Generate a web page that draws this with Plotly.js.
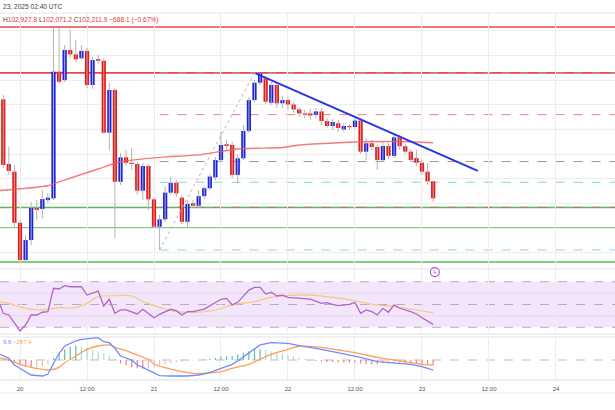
<!DOCTYPE html>
<html>
<head>
<meta charset="utf-8">
<script src="https://cdn.plot.ly/plotly-3.0.1.min.js"></script>
<style>
  html, body { margin: 0; padding: 0; background: #fff; }
  #chart { width: 615px; height: 410px; }
</style>
</head>
<body>
<div id="chart"></div>
<script>
// hours are counted from 2025-01-20 00:00 UTC, one candle per hour
const firstCandleHour = -3;

const opens = [
  106220, 103600, 103290, 101220, 99710, 100520, 101820, 101780, 102140, 102210,
  107340, 107000, 108220, 108040, 107880, 108180, 106800, 107850, 107780, 104870,
  106600, 102880, 103870, 103650, 103600, 102520, 103520, 102170, 101060, 101360,
  102440, 102840, 102240, 101260, 102010, 101910, 102300, 102620, 103060, 103760,
  104400, 104370, 103160, 103830, 104940, 106190, 106890, 107070, 106080, 106800,
  106060, 106190, 106010, 105810, 105650, 105650, 105590, 105730, 105340, 105140,
  105250, 105000, 105140, 105100, 105360, 104100, 104440, 104290, 103760, 104330,
  103930, 104680, 104320, 104100, 103840, 103650, 103290, 102900,
];
const highs = [
  106400, 104300, 103560, 101330, 100730, 102060, 102140, 102550, 102430, 109110,
  109110, 108420, 109030, 108620, 108420, 108300, 107930, 108020, 107890, 106880,
  106680, 104050, 104170, 104250, 103680, 103640, 103600, 102260, 101540, 102680,
  103090, 102950, 102350, 102140, 102140, 102550, 102710, 103200, 103880, 104900,
  104570, 104490, 103970, 105180, 106310, 107000, 107290, 107170, 106920, 106880,
  106360, 106310, 106110, 105910, 105790, 105830, 105870, 105870, 105460, 105420,
  105380, 105260, 105220, 105460, 105460, 104650, 104570, 104370, 104490, 104450,
  104820, 104780, 104410, 104210, 104170, 103760, 103640, 102928,
];
const lows = [
  103440, 103160, 101010, 99590, 99630, 100320, 101330, 101370, 102020, 102140,
  106840, 106920, 107890, 107730, 107810, 106680, 106640, 107650, 104820, 104170,
  100600, 102750, 103520, 103360, 102350, 102140, 101740, 101010, 100120, 101250,
  102350, 102260, 101170, 101060, 101820, 101820, 102180, 102550, 102950, 103680,
  104170, 103030, 102820, 103760, 104860, 106110, 106800, 106030, 105990, 105870,
  105870, 105790, 105670, 105500, 105460, 105380, 105460, 105180, 105060, 104980,
  104900, 104900, 104980, 105020, 104010, 103760, 104170, 103360, 103680, 103800,
  103840, 104170, 104010, 103680, 103520, 103160, 102750, 102071,
];
const closes = [
  103560, 103320, 101220, 99710, 100520, 101820, 101740, 102180, 102240, 107340,
  106930, 108220, 108040, 107840, 108180, 106800, 107810, 107780, 104870, 106600,
  102880, 103870, 103650, 103600, 102520, 103520, 102170, 101060, 101360, 102440,
  102840, 102410, 101260, 101980, 101910, 102300, 102620, 103090, 103760, 104370,
  104330, 103160, 103830, 104940, 106190, 106890, 107270, 106120, 106800, 106060,
  106190, 106010, 105810, 105650, 105610, 105570, 105730, 105340, 105140, 105300,
  105060, 105140, 105090, 105360, 104100, 104440, 104290, 103760, 104330, 103930,
  104680, 104320, 104100, 103760, 103650, 103290, 102900, 102212,
];

// moving average on price
const maHours = [-4, 5, 7, 14, 18, 25, 32, 39, 47, 50, 61, 68, 74];
const maValues = [102520, 102720, 102880, 103400, 103690, 103870, 103970, 104210, 104270, 104370, 104500, 104510, 104460];

// drawn levels
const resistanceLevels = [109150, 107290];
const supportLevels = [101840, 101010, 99630];
const fibStartHour = 25;
const fibEndHour = 42;
const fibLevels = [107290, 105600, 103700, 102860, 101850, 100120];
const fibLevelColors = ["#a0a0a0", "#ef8080", "#ad9090", "#86d8c8", "#bb7a6c", "#95cdf2"];
const trendHours = [42.2, 82];
const trendPrices = [107270, 103320];

// RSI pane
const rsiHours = [-4, -3, -2, -1, 0, 1, 2, 3, 4, 5, 6, 7, 8, 9, 11, 12, 13, 14, 15, 16,
  17, 18, 19, 21, 22, 23, 24, 25, 27, 28, 29, 30, 31, 33, 34, 36, 37, 38, 39, 41,
  42, 43, 44, 45, 46, 47, 48, 50, 52, 54, 55, 56, 57, 59, 60, 61, 62, 63, 64, 65,
  66, 67, 68, 70, 71, 72, 73, 74];
const rsiValues = [55.4, 42.3, 40.8, 33.5, 26.8, 32, 40.8, 40.8, 43.2, 43.7, 64.2, 63.6, 66.5, 65.6, 65.6, 58.3, 60.4, 61.8, 48.7, 54.6,
  42.3, 45.2, 45.2, 41.7, 45.8, 42.3, 38.4, 41.4, 45.8, 44.6, 40.8, 43.7, 43.7, 46, 48.7, 54.6, 55.4, 49.6, 51.9, 62.7,
  65, 65, 59.2, 60.7, 57.5, 58.3, 56.3, 55.4, 54.8, 51, 51.6, 50.2, 49, 50.2, 51.9, 42.3, 45.2, 43.7, 40.8, 46.7,
  43.2, 49.6, 46.7, 43.7, 41.7, 38.4, 35.8, 32.6];
const rsiMaHours = [-4, -2, 0, 2, 4, 7, 10, 12, 14, 17, 20, 22, 25, 28, 32, 35, 38, 42, 45, 49, 52, 56, 60, 63, 67, 71, 74];
const rsiMaValues = [52.5, 51, 48, 45.8, 45.2, 47.2, 47.2, 51, 56.8, 57.7, 57.5, 52.5, 47.5, 43.7, 43.2, 45.2, 49.6, 52.5, 56.3, 58.3, 58.3, 56.3, 53.3, 50.2, 48.1, 45.2, 42.8];
const eventHours = [74.3];
const eventLevels = [78.5];

// MACD pane
const macdHours = [-4, -2, -1, 1, 2, 4, 5, 6, 7, 8, 10, 11, 13, 14, 15, 16, 17, 18, 20, 21,
  22, 24, 25, 27, 30, 32, 34, 36, 38, 39, 41, 43, 45, 47, 48, 50, 52, 53, 56, 59,
  61, 64, 67, 70, 72, 74];
const macdValues = [385, 98, -288, -673, -863, -920, -805, -190, 385, 805, 1093, 1190, 1248, 1282, 1052, 995, 673, 230, 0, -288,
  -420, -765, -903, -920, -920, -863, -730, -477, -247, -58, 385, 863, 995, 995, 960, 830, 730, 673, 477, 288,
  155, -98, -155, -247, -385, -579.6];
const signalHours = [-4, -2, 0, 2, 4, 5, 7, 8, 10, 12, 14, 16, 17, 19, 21, 23, 24, 26, 29, 31,
  33, 36, 38, 41, 43, 45, 48, 50, 54, 57, 60, 64, 67, 70, 72, 74];
const signalValues = [155, 0, -247, -420, -535, -575, -420, -155, 230, 615, 805, 863, 730, 535, 288, 40, -230, -443, -673, -765,
  -765, -673, -477, -247, 40, 328, 615, 790, 730, 575, 420, 155, 0, -155, -247, -287.4];
const macdHist = [
  20, -60, -180, -300, -380, -430, -420, -380, -250, 120,
  400, 600, 750, 820, 760, 680, 600, 500, 380, 250,
  60, -200, -300, -420, -480, -500, -470, -400, -300, -230,
  -170, -120, -80, -60, -30, -10, 30, 60, 120, 190,
  220, 230, 330, 420, 500, 560, 600, 560, 500, 420,
  350, 280, 200, 120, 50, -20, -60, -90, -110, -120,
  -130, -140, -150, -150, -200, -230, -240, -240, -220, -210,
  -190, -180, -190, -200, -220, -250, -270, -292,
];

const tickHours = [0, 12, 24, 36, 48, 60, 72, 84, 96];
const tickLabels = ["20", "12:00", "21", "12:00", "22", "12:00", "23", "12:00", "24"];

const colors = {
  up: "#1a24e6",
  down: "#ee1515",
  wick: "#b4b4b4",
  ma: "rgba(240,90,90,0.8)",
  red: "#e84545",
  green: "#5cb85c",
  trend: "#2634e4",
  rsi: "#b463cc",
  rsiMa: "#f6c77c",
  macd: "#6f8cff",
  signal: "#ff9f5a",
  grid: "#ededed",
  text: "#555",
};

const dayZero = Date.UTC(2025, 0, 20);
function timeAt(hour) {
  return new Date(dayZero + hour * 3600e3).toISOString().slice(0, 19).replace("T", " ");
}
// figure pixel row -> paper fraction
const H = 410;
const W = 615;
const py = (px) => 1 - px / H;

const candleTimes = opens.map((_, i) => timeAt(firstCandleHour + i));

const wickX = [];
const wickY = [];
candleTimes.forEach((t, i) => {
  wickX.push(t, t, null);
  wickY.push(lows[i], highs[i], null);
});
const bodyBase = opens.map((o, i) => Math.min(o, closes[i]));
const bodySize = opens.map((o, i) => Math.max(Math.abs(closes[i] - o), 40));
const bodyColor = opens.map((o, i) => (closes[i] >= o ? colors.up : colors.down));

const histColor = macdHist.map((v, i) => {
  const prev = i > 0 ? macdHist[i - 1] : 0;
  if (v >= 0) return v >= prev ? "#5fbfae" : "#a9ddd3";
  return v <= prev ? "#f77f7f" : "#f9b8b8";
});

const traces = [
  {
    x: wickX, y: wickY, mode: "lines", type: "scatter",
    line: { color: colors.wick, width: 1 }, yaxis: "y",
  },
  {
    x: candleTimes, y: bodySize, base: bodyBase, type: "bar",
    width: 0.76 * 3600e3,
    marker: { color: bodyColor, line: { width: 0 } }, yaxis: "y",
  },
  {
    x: maHours.map(timeAt), y: maValues, mode: "lines", type: "scatter",
    line: { color: colors.ma, width: 1.4, shape: "spline", smoothing: 0.6 }, yaxis: "y",
  },
  {
    x: [timeAt(fibStartHour), timeAt(fibEndHour)],
    y: [fibLevels[fibLevels.length - 1], fibLevels[0]],
    mode: "lines", type: "scatter",
    line: { color: "#b8b8b8", width: 1, dash: "dot" }, yaxis: "y",
  },
  {
    x: trendHours.map(timeAt), y: trendPrices, mode: "lines", type: "scatter",
    line: { color: colors.trend, width: 2 }, yaxis: "y",
  },
  {
    x: rsiMaHours.map(timeAt), y: rsiMaValues, mode: "lines", type: "scatter",
    line: { color: colors.rsiMa, width: 1.2, shape: "spline" }, yaxis: "y2",
  },
  {
    x: rsiHours.map(timeAt), y: rsiValues, mode: "lines", type: "scatter",
    line: { color: colors.rsi, width: 1.3 }, yaxis: "y2",
  },
  {
    x: eventHours.map(timeAt), y: eventLevels, mode: "markers+text", type: "scatter",
    text: ["ϟ"], textposition: "middle center",
    textfont: { color: "#b05ad0", size: 6 },
    marker: { symbol: "circle-open", size: 9, color: "#b05ad0", line: { width: 1.2 } },
    cliponaxis: false, yaxis: "y2",
  },
  {
    x: candleTimes, y: macdHist, type: "bar", width: 0.22 * 3600e3,
    marker: { color: histColor, line: { width: 0 } }, yaxis: "y3",
  },
  {
    x: signalHours.map(timeAt), y: signalValues, mode: "lines", type: "scatter",
    line: { color: colors.signal, width: 1.3, shape: "spline" }, yaxis: "y3",
  },
  {
    x: macdHours.map(timeAt), y: macdValues, mode: "lines", type: "scatter",
    line: { color: colors.macd, width: 1.3 }, yaxis: "y3",
  },
];

const shapes = [];
const hline = (pxRow, color, width) => shapes.push({
  type: "line", xref: "paper", yref: "paper", x0: 0, x1: 1, y0: py(pxRow), y1: py(pxRow),
  line: { color, width }, layer: "below",
});
hline(13, "#e6e6e6", 1);
hline(269, "#e2e2e2", 1);
hline(334, "#e2e2e2", 1);
hline(337, "#e2e2e2", 1);
hline(380, "#dcdcdc", 1);
hline(393, "#ececec", 1);

// RSI band and guides
shapes.push({
  type: "rect", xref: "paper", yref: "y2", x0: 0, x1: 1, y0: 30, y1: 70,
  fillcolor: "#f3e6fb", line: { width: 0 }, layer: "below",
});
[60, 40].forEach((v) => shapes.push({
  type: "line", xref: "paper", yref: "y2", x0: 0, x1: 1, y0: v, y1: v,
  line: { color: "rgba(120,90,140,0.12)", width: 1 }, layer: "below",
}));
[70, 50, 30].forEach((v) => shapes.push({
  type: "line", xref: "paper", yref: "y2", x0: 0, x1: 1, y0: v, y1: v,
  line: { color: "#b9a9c2", width: 1, dash: "dash" }, layer: "below",
}));
shapes.push({
  type: "line", xref: "paper", yref: "y3", x0: 0, x1: 1, y0: 0, y1: 0,
  line: { color: "#bdbdbd", width: 1, dash: "dash" }, layer: "below",
});

// fib levels from the swing low to the right edge
fibLevels.forEach((p, i) => shapes.push({
  type: "line", xref: "x", yref: "y", x0: timeAt(fibStartHour), x1: timeAt(110), y0: p, y1: p,
  line: { color: fibLevelColors[i], width: 1, dash: "dash" }, layer: "below",
}));
resistanceLevels.forEach((p) => shapes.push({
  type: "line", xref: "paper", yref: "y", x0: 0, x1: 1, y0: p, y1: p,
  line: { color: colors.red, width: 1.6 }, layer: "below",
}));
supportLevels.forEach((p) => shapes.push({
  type: "line", xref: "paper", yref: "y", x0: 0, x1: 1, y0: p, y1: p,
  line: { color: colors.green, width: 1.5 }, layer: "below",
}));

const red = (s) => `<span style="color:#e03a3a">${s}</span>`;
const annotations = [
  {
    text: "23, 2025 02:40 UTC", xref: "paper", yref: "paper",
    x: 1 / W, y: py(6), xanchor: "left", yanchor: "middle", showarrow: false,
    font: { size: 6.6, color: "#444" },
  },
  {
    text: `H${red("102,927.8")} L${red("102,071.2")} C${red("102,211.9")} ${red("−688.1 (−0.67%)")}`,
    xref: "paper", yref: "paper", x: 1 / W, y: py(20), xanchor: "left", yanchor: "middle",
    showarrow: false, font: { size: 6.6, color: "#444" },
  },
  {
    text: `<span style="color:${colors.macd}">9.6</span> <span style="color:${colors.signal}">−287.4</span>`,
    xref: "paper", yref: "paper", x: 1 / W, y: py(342), xanchor: "left", yanchor: "middle",
    showarrow: false, font: { size: 6 },
  },
];

const layout = {
  width: W,
  height: H,
  margin: { l: 0, r: 0, t: 0, b: 0 },
  paper_bgcolor: "#fff",
  plot_bgcolor: "rgba(0,0,0,0)",
  showlegend: false,
  hovermode: false,
  barmode: "overlay",
  font: { family: "Liberation Sans, Arial, sans-serif", color: colors.text },
  xaxis: {
    type: "date",
    range: [timeAt(-3.582), timeAt(106.57)],
    anchor: "y3",
    tickvals: tickHours.map(timeAt),
    ticktext: tickLabels,
    tickfont: { size: 6, color: colors.text },
    ticks: "outside",
    ticklen: 3,
    tickcolor: "rgba(0,0,0,0)",
    showgrid: true,
    gridcolor: colors.grid,
    zeroline: false,
    showline: false,
  },
  yaxis: {
    domain: [py(268), py(13)],
    range: [99389, 109716],
    tick0: 0,
    dtick: 1000,
    showgrid: true,
    gridcolor: colors.grid,
    showticklabels: false,
    zeroline: false,
  },
  yaxis2: {
    domain: [py(334), py(270)],
    range: [24.1, 80.3],
    showgrid: false,
    showticklabels: false,
    zeroline: false,
  },
  yaxis3: {
    domain: [py(380), py(337)],
    range: [-1150, 1322],
    showgrid: false,
    showticklabels: false,
    zeroline: false,
  },
  shapes,
  annotations,
};

Plotly.newPlot("chart", traces, layout, { displayModeBar: false, staticPlot: true });
</script>
</body>
</html>
